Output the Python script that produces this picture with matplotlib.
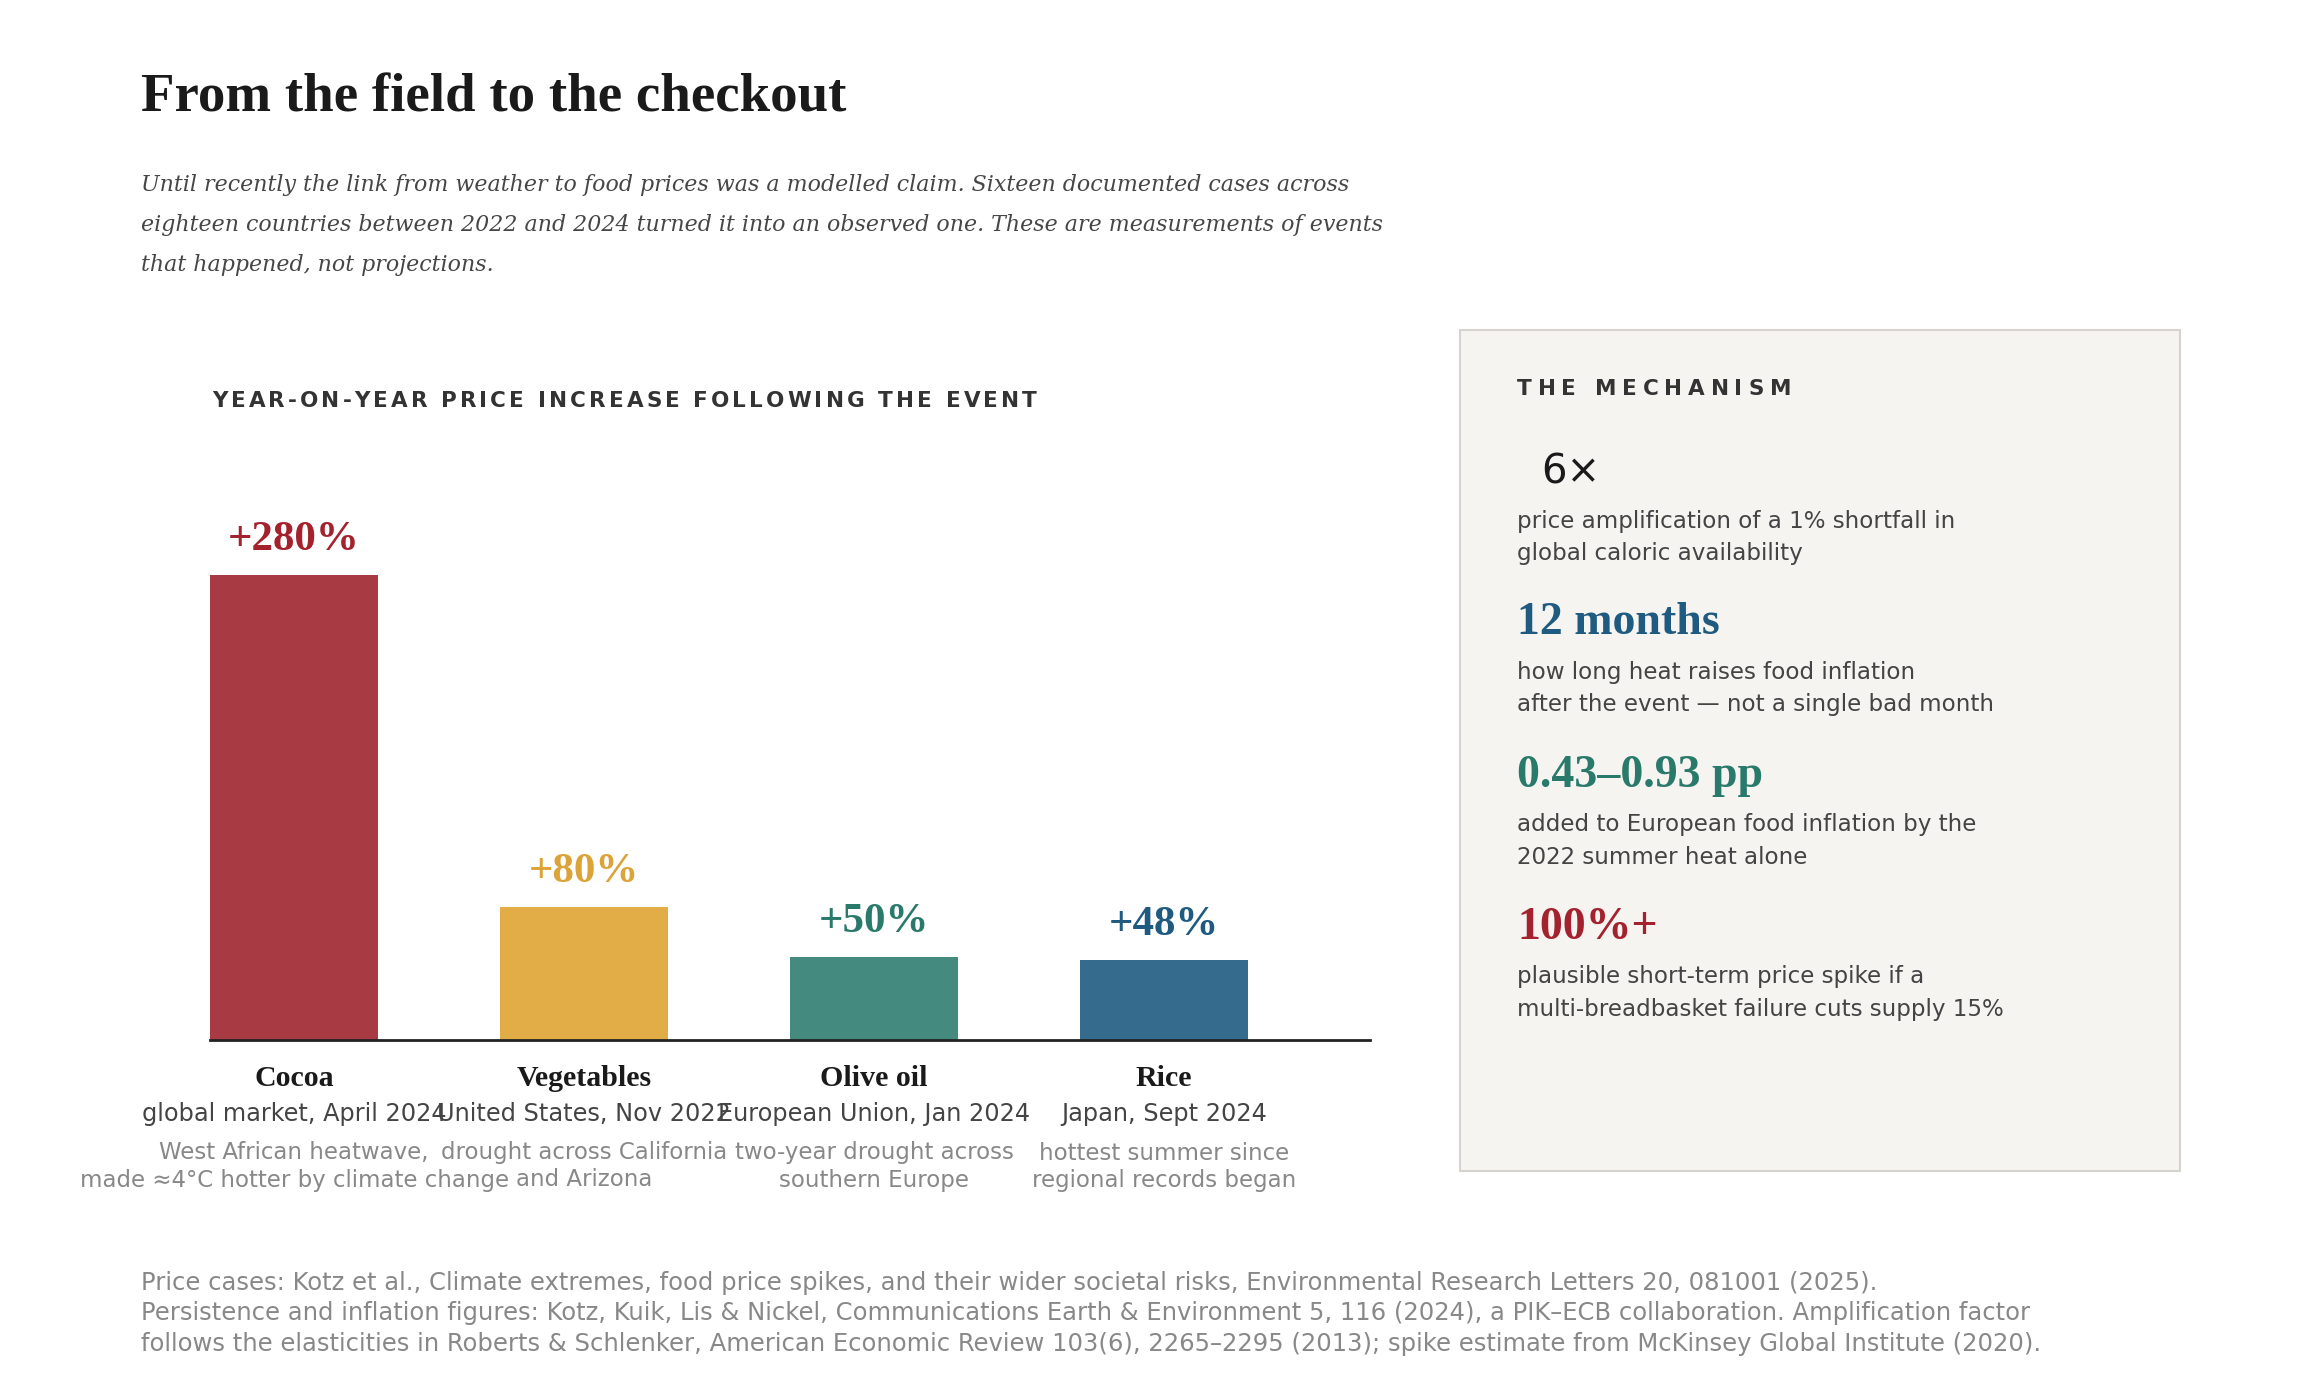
import matplotlib
matplotlib.use("Agg")
import matplotlib.pyplot as plt
from matplotlib.font_manager import FontProperties
from matplotlib.patches import Rectangle
import matplotlib.transforms as mtransforms

# data
categories = ["Cocoa", "Vegetables", "Olive oil", "Rice"]
values = [280, 80, 50, 48]
locations = ["global market, April 2024", "United States, Nov 2022",
             "European Union, Jan 2024", "Japan, Sept 2024"]
notes = [["West African heatwave,", "made \u22484\u00b0C hotter by climate change"],
         ["drought across California", "and Arizona"],
         ["two-year drought across", "southern Europe"],
         ["hottest summer since", "regional records began"]]
bar_colors = ["#a83a43", "#e2ac47", "#448a7e", "#356b8d"]
label_colors = ["#a3222e", "#dca438", "#2a7a6b", "#1f5a80"]

stat_values = ["6\u00d7", "12 months", "0.43\u20130.93 pp", "100%+"]
stat_desc = [["price amplification of a 1% shortfall in", "global caloric availability"],
             ["how long heat raises food inflation", "after the event \u2014 not a single bad month"],
             ["added to European food inflation by the", "2022 summer heat alone"],
             ["plausible short-term price spike if a", "multi-breadbasket failure cuts supply 15%"]]
stat_colors = ["#1a1a1a", "#1f5a80", "#2a7a6b", "#a3222e"]

title = "From the field to the checkout"
subtitle = ["Until recently the link from weather to food prices was a modelled claim. Sixteen documented cases across",
            "eighteen countries between 2022 and 2024 turned it into an observed one. These are measurements of events",
            "that happened, not projections."]
footer = ["Price cases: Kotz et al., Climate extremes, food price spikes, and their wider societal risks, Environmental Research Letters 20, 081001 (2025).",
          "Persistence and inflation figures: Kotz, Kuik, Lis & Nickel, Communications Earth & Environment 5, 116 (2024), a PIK\u2013ECB collaboration. Amplification factor",
          "follows the elasticities in Roberts & Schlenker, American Economic Review 103(6), 2265\u20132295 (2013); spike estimate from McKinsey Global Institute (2020)."]

W, H = 2320, 1380
SERIF = "Liberation Serif"
SANS = "DejaVu Sans"

fig = plt.figure(figsize=(W / 100, H / 100), dpi=100)
fig.patch.set_facecolor("white")


def fx(x):
    return x / W


def fy(y):
    return 1 - y / H


def spaced_text(x, y, s, size, width, color):
    # matplotlib has no letter spacing, so place glyphs one by one
    renderer = fig.canvas.get_renderer()
    prop = FontProperties(family=SANS, weight="bold", size=size)
    ww = lambda t: renderer.get_text_width_height_descent(t, prop, ismath=False)[0]
    base = ww("HH")
    adv = [ww("H" + ch + "H") - base for ch in s]
    tracking = (width - sum(adv)) / (len(s) - 1)
    for ch, a in zip(s, adv):
        if ch != " ":
            fig.text(fx(x), fy(y), ch, fontproperties=prop, color=color, va="center", ha="left")
        x += a + tracking


# header
fig.text(fx(141), fy(112), title, family=SERIF, weight="bold", size=39.5, color="#1a1a1a", va="baseline")
for line, yb in zip(subtitle, [191, 231, 271]):
    fig.text(fx(141), fy(yb), line, family="DejaVu Serif", style="italic", size=15.9,
             color="#464646", va="baseline")

spaced_text(212, 401, "YEAR-ON-YEAR PRICE INCREASE FOLLOWING THE EVENT", 15.5, 825, "#333333")

# bar chart
ymax = 320
ax = fig.add_axes([fx(210), fy(1040), fx(1160), (ymax * 1.661) / H])
x = list(range(len(categories)))
ax.bar(x, values, width=0.58, color=bar_colors, zorder=2)
ax.set_xlim(-0.29, 3.71)
ax.set_ylim(0, ymax)
for s in ["top", "right", "left"]:
    ax.spines[s].set_visible(False)
ax.spines["bottom"].set_color("#222222")
ax.spines["bottom"].set_linewidth(2)
ax.set_xticks([])
ax.set_yticks([])
ax.patch.set_alpha(0)

for i, v in enumerate(values):
    ax.annotate(f"+{v}%", (i, v), xytext=(0, 18), textcoords="offset points",
                ha="center", va="baseline", family=SERIF, weight="bold", size=31,
                color=label_colors[i], annotation_clip=False)

blend = mtransforms.blended_transform_factory(ax.transData, fig.transFigure)
for i in x:
    ax.text(i, fy(1079), categories[i], transform=blend, ha="center", va="center",
            family=SERIF, weight="bold", size=21.5, color="#1a1a1a")
    ax.text(i, fy(1114), locations[i], transform=blend, ha="center", va="center",
            family=SANS, size=17.3, color="#444444")
    for line, yc in zip(notes[i], [1153, 1180]):
        ax.text(i, fy(yc), line, transform=blend, ha="center", va="center",
                family=SANS, size=16.5, color="#888888")

# footer
for line, yc in zip(footer, [1283, 1313, 1344]):
    fig.text(fx(141), fy(yc), line, family=SANS, size=17.45, color="#888888", va="center")

# mechanism panel
box = Rectangle((fx(1460), fy(1171)), fx(2180) - fx(1460), fy(330) - fy(1171),
                transform=fig.transFigure, facecolor="#f6f4f1", edgecolor="#d6d3ce", linewidth=1.5)
fig.patches.append(box)
spaced_text(1517, 389, "THE MECHANISM", 15.5, 274, "#333333")

value_y = [472, 623, 776, 928]
for i, sv in enumerate(stat_values):
    if i == 0:
        fig.text(fx(1541), fy(value_y[i]), sv, family=SANS, size=29, color=stat_colors[i], va="center")
    else:
        fig.text(fx(1517), fy(value_y[i]), sv, family=SERIF, weight="bold", size=33,
                 color=stat_colors[i], va="center")
    for k, line in enumerate(stat_desc[i]):
        fig.text(fx(1517), fy(value_y[i] + 49 + 32.5 * k), line, family=SANS, size=16.6,
                 color="#444444", va="center")

fig.savefig("out.png", dpi=100, facecolor="white")
